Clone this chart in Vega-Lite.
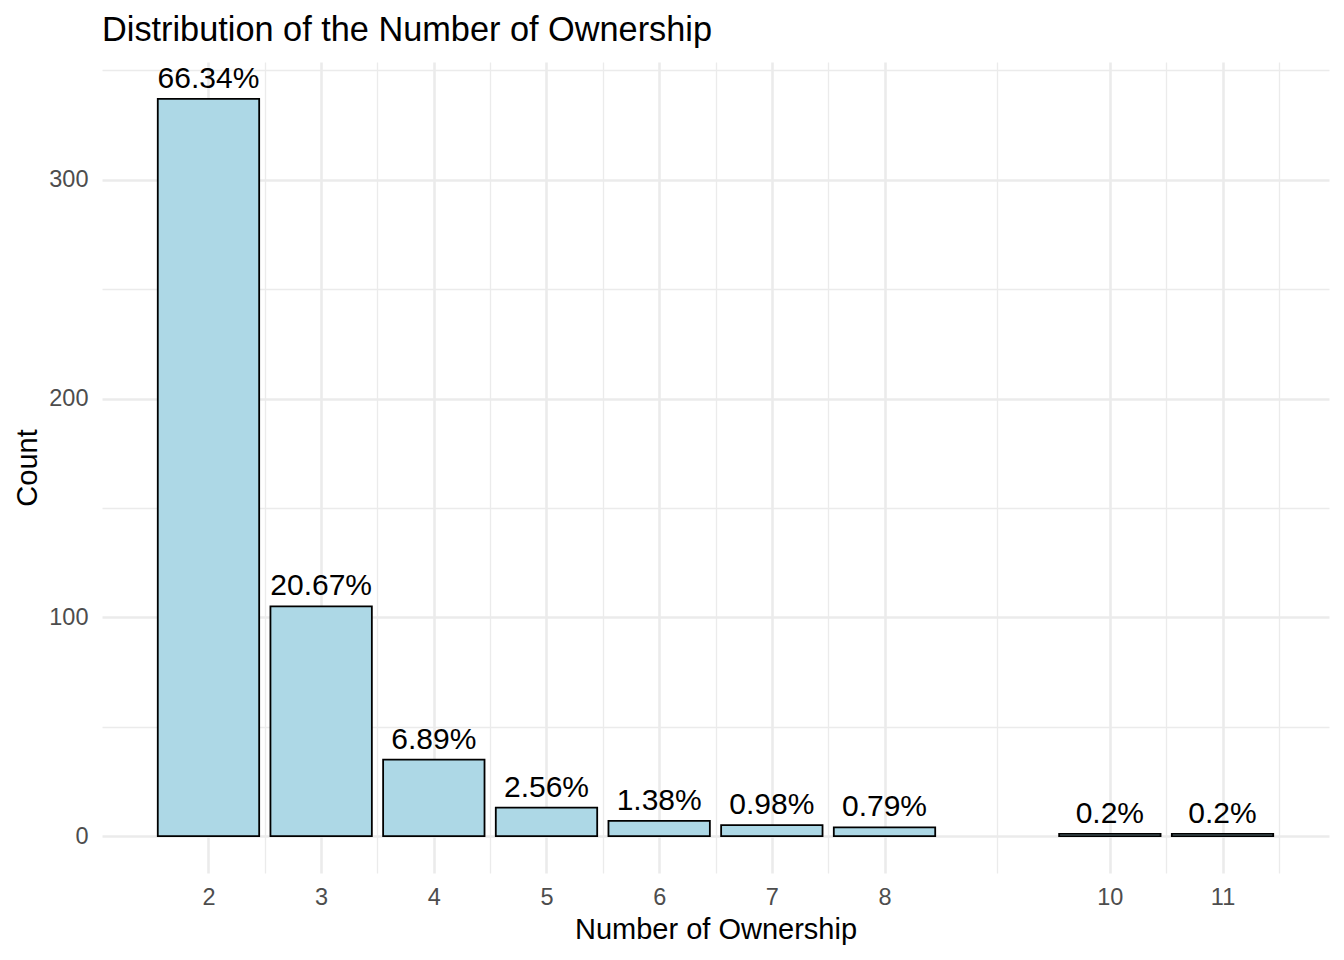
{
  "$schema": "https://vega.github.io/schema/vega-lite/v6.json",
  "width": 1227,
  "height": 811,
  "autosize": "none",
  "padding": {"left": 102, "top": 62, "right": 15, "bottom": 87},
  "background": "white",
  "title": {
    "text": "Distribution of the Number of Ownership",
    "anchor": "start",
    "frame": "group",
    "fontSize": 34.3,
    "font": "Liberation Sans",
    "fontWeight": "normal",
    "color": "black",
    "baseline": "alphabetic",
    "offset": -13
  },
  "data": {
    "values": [
      {"owners": 2, "count": 337, "label": "66.34%"},
      {"owners": 3, "count": 105, "label": "20.67%"},
      {"owners": 4, "count": 35, "label": "6.89%"},
      {"owners": 5, "count": 13, "label": "2.56%"},
      {"owners": 6, "count": 7, "label": "1.38%"},
      {"owners": 7, "count": 5, "label": "0.98%"},
      {"owners": 8, "count": 4, "label": "0.79%"},
      {"owners": 10, "count": 1, "label": "0.2%"},
      {"owners": 11, "count": 1, "label": "0.2%"}
    ]
  },
  "encoding": {
    "x": {
      "field": "owners", "type": "quantitative",
      "scale": {"domain": [1.055, 11.945], "nice": false, "zero": false, "padding": 0}
    },
    "y": {
      "field": "count", "type": "quantitative",
      "scale": {"domain": [-16.85, 353.85], "nice": false, "zero": false, "padding": 0}
    }
  },
  "layer": [
    {
      "mark": {"type": "text", "opacity": 0},
      "encoding": {
        "text": {"field": "label"},
        "x": {
          "field": "owners", "type": "quantitative",
          "axis": {"orient": "bottom", "grid": true, "values": [2.5, 3.5, 4.5, 5.5, 6.5, 7.5, 9, 10.5, 11.5], "gridWidth": 1.3, "labels": false, "title": null, "minExtent": 0, "maxExtent": 0}
        },
        "y": {
          "field": "count", "type": "quantitative",
          "axis": {"orient": "left", "grid": true, "values": [50, 150, 250, 350], "gridWidth": 1.3, "labels": false, "title": null, "minExtent": 0, "maxExtent": 0}
        }
      }
    },
    {
      "mark": {"type": "bar", "width": 101.4, "fill": "#ADD8E6", "stroke": "black", "strokeWidth": 1.8},
      "encoding": {
        "x": {
          "field": "owners", "type": "quantitative",
          "title": "Number of Ownership",
          "axis": {"orient": "bottom", "grid": true, "values": [2, 3, 4, 5, 6, 7, 8, 10, 11], "gridWidth": 2.6}
        },
        "y": {
          "field": "count", "type": "quantitative",
          "title": "Count",
          "axis": {"orient": "left", "grid": true, "values": [0, 100, 200, 300], "gridWidth": 2.6}
        }
      }
    },
    {
      "mark": {"type": "text", "font": "Liberation Sans", "fontSize": 30, "color": "black", "align": "center", "baseline": "alphabetic", "dy": -11},
      "encoding": {
        "text": {"field": "label"},
        "x": {"field": "owners", "type": "quantitative", "axis": null},
        "y": {"field": "count", "type": "quantitative", "axis": null}
      }
    }
  ],
  "resolve": {
    "scale": {"x": "independent", "y": "independent"},
    "axis": {"x": "independent", "y": "independent"}
  },
  "config": {
    "view": {"stroke": null},
    "axis": {
      "grid": true,
      "gridColor": "#EBEBEB",
      "domain": false,
      "ticks": false,
      "labelFont": "Liberation Sans",
      "labelFontSize": 23.5,
      "labelColor": "#4D4D4D",
      "titleFont": "Liberation Sans",
      "titleFontSize": 29,
      "titleFontWeight": "normal",
      "titleColor": "black"
    },
    "axisX": {"labelPadding": 12, "titlePadding": 7},
    "axisY": {"labelPadding": 14, "titlePadding": 6}
  }
}
